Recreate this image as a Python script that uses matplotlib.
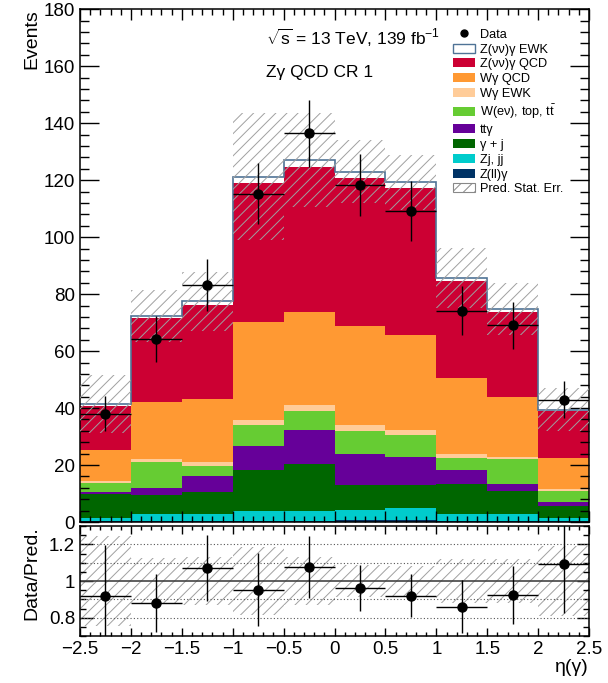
import matplotlib
matplotlib.use('Agg')
import matplotlib.pyplot as plt
from matplotlib.patches import Patch
from matplotlib.lines import Line2D
from matplotlib.ticker import MultipleLocator, FuncFormatter
import numpy as np

plt.rcParams['font.family'] = ['Liberation Sans', 'DejaVu Sans']
plt.rcParams['mathtext.fontset'] = 'custom'
plt.rcParams['mathtext.rm'] = 'Liberation Sans'
plt.rcParams['mathtext.it'] = 'Liberation Sans'
plt.rcParams['hatch.linewidth'] = 0.7

# eta(gamma) binning
bin_edges = [-2.5, -2.0, -1.5, -1.0, -0.5, 0.0, 0.5, 1.0, 1.5, 2.0, 2.5]

# background/signal yields per bin, stacked bottom -> top
z_ll_gamma = [0.2, 0.3, 0.3, 0.4, 0.5, 0.8, 0.8, 0.3, 0.3, 0.2]
zj_jj = [1.1, 2.4, 2.5, 3.6, 3.5, 3.4, 4.0, 2.5, 2.5, 1.1]
gamma_jet = [8.4, 6.8, 7.6, 14.3, 16.5, 8.8, 8.2, 10.6, 8.1, 4.4]
tt_gamma = [0.8, 2.6, 5.9, 8.4, 11.7, 10.8, 9.7, 4.9, 2.5, 1.4]
w_enu_top = [3.3, 9.1, 3.5, 7.2, 6.8, 8.0, 7.7, 4.1, 8.6, 3.8]
w_gamma_ewk = [0.7, 1.0, 1.4, 2.0, 2.0, 2.1, 1.9, 1.5, 1.0, 0.6]
w_gamma_qcd = [10.8, 19.9, 21.9, 34.2, 32.7, 34.8, 33.5, 26.6, 20.8, 11.1]
znn_gamma_qcd = [15.6, 29.5, 33.0, 49.0, 51.0, 51.9, 51.3, 34.0, 29.8, 16.2]
znn_gamma_ewk = [0.6, 0.8, 1.4, 2.1, 2.3, 2.4, 2.2, 1.2, 1.2, 0.6]

# MC statistical uncertainty on the total prediction
pred_stat_err = [10.2, 9.2, 10.3, 22.3, 16.5, 11.0, 9.7, 10.5, 9.1, 7.5]

# observed data
data = [38.0, 64.2, 83.2, 115.3, 136.4, 118.3, 109.2, 74.2, 69.0, 43.0]
data_err = [6.2, 8.0, 9.1, 10.7, 11.6, 10.9, 10.4, 8.6, 8.3, 6.6]

# data / prediction
ratio = [0.919, 0.880, 1.073, 0.952, 1.077, 0.963, 0.919, 0.861, 0.923, 1.093]
ratio_err = [0.28, 0.157, 0.18, 0.20, 0.17, 0.125, 0.117, 0.145, 0.157, 0.27]

samples = [
    ("Z(ll)γ", z_ll_gamma, '#003366'),
    ("Zj, jj", zj_jj, '#00cccc'),
    ("γ + j", gamma_jet, '#006600'),
    ("ttγ", tt_gamma, '#660099'),
    (r"W(eν), top, t$\bar{\mathrm{t}}$", w_enu_top, '#66cc33'),
    ("Wγ EWK", w_gamma_ewk, '#ffcc99'),
    ("Wγ QCD", w_gamma_qcd, '#ff9933'),
    ("Z(νν)γ QCD", znn_gamma_qcd, '#cc0033'),
    ("Z(νν)γ EWK", znn_gamma_ewk, 'white'),
]
EWK_LINE = '#4f7396'
HATCH_COL = '#a0a0a0'

edges = np.array(bin_edges)
centers = 0.5 * (edges[:-1] + edges[1:])
widths = np.diff(edges)

fig = plt.figure(figsize=(6.08, 6.83), dpi=100)
ax = fig.add_axes([0.1316, 0.2357, 0.8372, 0.7507])
rax = fig.add_axes([0.1316, 0.0688, 0.8372, 0.1610])

# stacked prediction
bottom = np.zeros(len(centers))
for label, vals, col in samples:
    ax.bar(centers, vals, width=widths, bottom=bottom, color=col,
           linewidth=0, zorder=1)
    bottom = bottom + np.array(vals)
total = bottom
ax.stairs(total, edges, color=EWK_LINE, linewidth=1.2, baseline=None, zorder=2)

err = np.array(pred_stat_err)
ax.bar(centers, 2 * err, width=widths, bottom=total - err, fill=False,
       edgecolor=HATCH_COL, hatch='///', linewidth=0, zorder=3)

ax.errorbar(centers, data, xerr=widths / 2, yerr=data_err, fmt='o', color='k',
            ms=6.5, elinewidth=1.0, capsize=0, zorder=5)

ax.set_xlim(-2.5, 2.5)
ax.set_ylim(0, 180)
ax.yaxis.set_major_locator(MultipleLocator(20))
ax.yaxis.set_minor_locator(MultipleLocator(4))
ax.xaxis.set_major_locator(MultipleLocator(0.5))
ax.xaxis.set_minor_locator(MultipleLocator(0.1))
ax.tick_params(which='both', direction='in', top=True, right=True,
               labelbottom=False, labelsize=13.5, width=1.0)
ax.tick_params(axis='y', which='major', length=13.5)
ax.tick_params(axis='y', which='minor', length=6.8)
ax.tick_params(axis='x', which='major', length=8)
ax.tick_params(axis='x', which='minor', length=4)
for sp in ax.spines.values():
    sp.set_linewidth(1.1)
ax.set_ylabel('Events', fontsize=14, loc='top')
ax.yaxis.set_label_coords(-0.078, 1.0)

ax.text(0.365, 0.944, r'$\sqrt{\mathrm{s}}$ = 13 TeV, 139 fb$^{-1}$',
        transform=ax.transAxes, fontsize=12.5, va='center', ha='left')
ax.text(0.365, 0.876, 'Zγ QCD CR 1', transform=ax.transAxes, fontsize=12.5,
        va='center', ha='left')

# legend, top to bottom
handles = [Line2D([], [], marker='o', color='k', linestyle='none', ms=5)]
labels = ['Data']
for label, vals, col in reversed(samples):
    if col == 'white':
        handles.append(Patch(facecolor='white', edgecolor=EWK_LINE, linewidth=1.0))
    else:
        handles.append(Patch(facecolor=col, edgecolor=col, linewidth=0))
    labels.append(label)
handles.append(Patch(facecolor='white', edgecolor='#888888', hatch='///', linewidth=0.8))
labels.append('Pred. Stat. Err.')
ax.legend(handles, labels, loc='upper left', bbox_to_anchor=(0.733, 0.962),
          frameon=False, fontsize=9.2, handlelength=1.7, handleheight=0.7,
          handletextpad=0.4, labelspacing=0.22, borderpad=0, borderaxespad=0)

# ratio panel
rax.bar(centers, 2 * err / total, width=widths, bottom=1 - err / total,
        fill=False, edgecolor=HATCH_COL, hatch='///', linewidth=0, zorder=1)
for yv in [0.8, 0.9, 1.1, 1.2]:
    rax.axhline(yv, color='#555555', linestyle=(0, (1, 2)), linewidth=0.8, zorder=2)
rax.axhline(1.0, color='#444444', linewidth=1.2, zorder=2)
rax.errorbar(centers, ratio, xerr=widths / 2, yerr=ratio_err, fmt='o', color='k',
             ms=6.5, elinewidth=1.0, capsize=0, zorder=5)
rax.set_xlim(-2.5, 2.5)
rax.set_ylim(0.7, 1.3)
rax.yaxis.set_major_locator(MultipleLocator(0.2))
rax.yaxis.set_minor_locator(MultipleLocator(0.05))
rax.xaxis.set_major_locator(MultipleLocator(0.5))
rax.xaxis.set_minor_locator(MultipleLocator(0.1))
fmt = FuncFormatter(lambda v, p: ('%g' % round(v, 3)).replace('-', '\u2212'))
rax.xaxis.set_major_formatter(fmt)
rax.yaxis.set_major_formatter(fmt)
rax.tick_params(which='both', direction='in', top=True, right=True,
                labelsize=13.5, width=1.0)
rax.tick_params(axis='y', which='major', length=9)
rax.tick_params(axis='y', which='minor', length=4.5)
rax.tick_params(axis='x', which='major', length=6)
rax.tick_params(axis='x', which='minor', length=3)
for sp in rax.spines.values():
    sp.set_linewidth(1.1)
rax.set_ylabel('Data/Pred.', fontsize=14, loc='top')
rax.yaxis.set_label_coords(-0.078, 1.0)
rax.set_xlabel('η(γ)', fontsize=14, loc='right', labelpad=1)

fig.savefig('out.png', dpi=100)
